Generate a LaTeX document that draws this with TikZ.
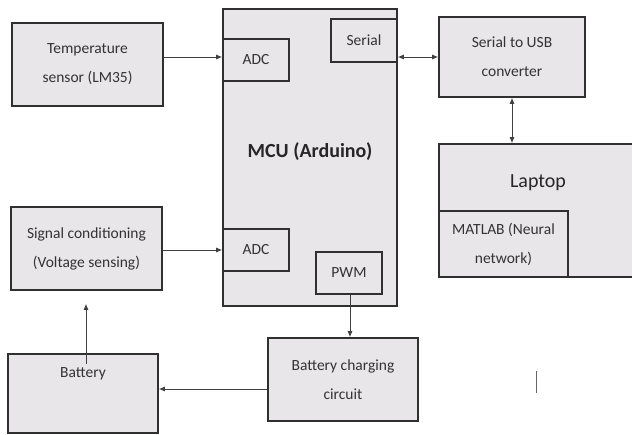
\documentclass[tikz,border=0pt]{standalone}
\usepackage{fontspec}
\setmainfont{Carlito}
\usetikzlibrary{arrows.meta}
\definecolor{boxfill}{HTML}{E8E6E8}
\definecolor{boxline}{HTML}{303030}
\tikzset{
  blk/.style={draw=boxline, fill=boxfill, line width=1.6pt, inner sep=0pt, align=center,
    font=\fontsize{15.5}{29}\selectfont, text=black!80},
  conn/.style={draw=black!75, line width=0.9pt},
  tip/.style={-{Latex[length=6pt,width=5pt]}},
  bitip/.style={{Latex[length=6pt,width=5pt]}-{Latex[length=6pt,width=5pt]}},
}
\begin{document}
\begin{tikzpicture}[x=1pt,y=-1pt]
\clip (0,0) rectangle (632,434);
\fill[white] (0,0) rectangle (632,434);
% MCU
\node[blk, minimum width=174pt, minimum height=297pt,
  label={[yshift=5.5pt, font=\fontsize{20}{24}\selectfont\bfseries, text=black!85]center:MCU (Arduino)}]
  (mcu) at (310,157.5) {};
\node[blk, minimum width=66pt, minimum height=42pt] (adc1) at (256,60) {ADC};
\node[blk, minimum width=66pt, minimum height=43pt] (serial) at (364,40.5) {Serial};
\node[blk, minimum width=66pt, minimum height=42pt] (adc2) at (256,250) {ADC};
\node[blk, minimum width=66pt, minimum height=42pt] (pwm) at (349,273) {PWM};
% left column
\node[blk, minimum width=151pt, minimum height=83pt] (temp) at (87.5,64.5) {Temperature\\sensor (LM35)};
\node[blk, minimum width=151pt, minimum height=83pt] (sig) at (86.5,248.5) {Signal conditioning\\(Voltage sensing)};
\node[blk, minimum width=150pt, minimum height=79pt,
  label={[anchor=center, yshift=-21pt, font=\fontsize{15.5}{29}\selectfont, text=black!80]north:Battery}]
  (bat) at (83,393.5) {};
% right side
\node[blk, minimum width=146pt, minimum height=80pt] (usb) at (512,57) {Serial to USB\\converter};
\node[blk, minimum width=206pt, minimum height=133pt,
  label={[anchor=center, yshift=-39pt, xshift=-4pt, font=\fontsize{20}{24}\selectfont, text=black!85]north:Laptop}]
  (laptop) at (542,210.5) {};
\node[blk, minimum width=129pt, minimum height=66pt] (matlab) at (503.5,244) {MATLAB (Neural\\network)};
\node[blk, minimum width=150pt, minimum height=83pt] (chg) at (343,379.5) {Battery charging\\circuit};
% connectors
\draw[conn, tip] ([yshift=3pt]adc1.west -| temp.east) -- ([yshift=3pt]adc1.west);
\draw[conn, bitip] (usb.west -| serial.east) -- (usb.west);
\draw[conn, bitip] (usb.south) -- (usb.south |- laptop.north);
\draw[conn, tip] (adc2.west -| sig.east) -- (adc2.west);
\draw[conn, tip] ([xshift=3pt,yshift=-11pt]bat.north) -- ([xshift=3pt,yshift=-13pt]bat.north |- sig.south);
\draw[conn, tip] ([xshift=1pt]pwm.south) -- ([xshift=1pt]pwm.south |- chg.north);
\draw[conn, tip] ([yshift=-9.5pt]chg.west) -- ([yshift=-9.5pt]chg.west -| bat.east);
% stray mark
\coordinate (mk1) at (536,371);
\coordinate (mk2) at (536,393);
\draw[black!60, line width=0.8pt] (mk1) -- (mk2);
\end{tikzpicture}
\end{document}
